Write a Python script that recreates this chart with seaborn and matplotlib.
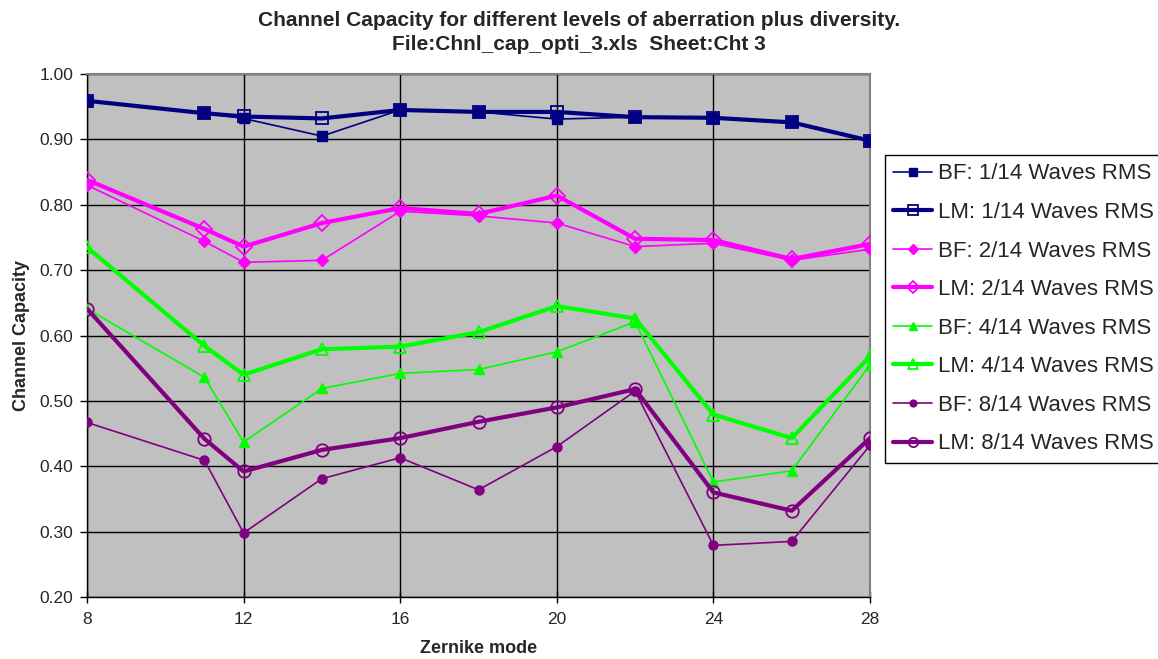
import matplotlib
matplotlib.use("Agg")
import matplotlib.pyplot as plt
import seaborn as sns
import pandas as pd

sns.set_theme(style="white")
plt.rcParams["font.family"] = ["Liberation Sans", "DejaVu Sans"]

zernike_mode = [8, 11, 12, 14, 16, 18, 20, 22, 24, 26, 28]

bf_1_14 = [0.959, 0.940, 0.932, 0.905, 0.945, 0.942, 0.931, 0.934, 0.933, 0.926, 0.898]
lm_1_14 = [0.959, 0.940, 0.935, 0.932, 0.945, 0.942, 0.942, 0.934, 0.933, 0.926, 0.898]
bf_2_14 = [0.830, 0.744, 0.712, 0.715, 0.790, 0.783, 0.772, 0.736, 0.741, 0.715, 0.732]
lm_2_14 = [0.838, 0.763, 0.736, 0.772, 0.795, 0.786, 0.814, 0.748, 0.746, 0.717, 0.740]
bf_4_14 = [0.641, 0.536, 0.437, 0.519, 0.542, 0.548, 0.575, 0.621, 0.376, 0.393, 0.555]
lm_4_14 = [0.735, 0.584, 0.540, 0.579, 0.583, 0.605, 0.645, 0.626, 0.479, 0.443, 0.568]
bf_8_14 = [0.467, 0.409, 0.298, 0.381, 0.413, 0.364, 0.430, 0.515, 0.279, 0.285, 0.432]
lm_8_14 = [0.641, 0.442, 0.392, 0.425, 0.443, 0.468, 0.490, 0.518, 0.360, 0.332, 0.443]

series_labels = [
    "BF: 1/14 Waves RMS", "LM: 1/14 Waves RMS",
    "BF: 2/14 Waves RMS", "LM: 2/14 Waves RMS",
    "BF: 4/14 Waves RMS", "LM: 4/14 Waves RMS",
    "BF: 8/14 Waves RMS", "LM: 8/14 Waves RMS",
]
series_values = [bf_1_14, lm_1_14, bf_2_14, lm_2_14, bf_4_14, lm_4_14, bf_8_14, lm_8_14]

colors = ["#000080", "#000080", "#FF00FF", "#FF00FF",
          "#00FF00", "#00FF00", "#800080", "#800080"]
markers = ["s", "s", "D", "D", "^", "^", "o", "o"]
filled = [True, False, True, False, True, False, True, False]
msizes = [7.5, 9, 6.5, 8, 7, 9, 6.5, 9]

fig = plt.figure(figsize=(11.58, 6.59), dpi=100)
ax = fig.add_axes([87 / 1158, 1 - 597 / 659, (870 - 87) / 1158, (597 - 74) / 659])
ax.set_facecolor("#C0C0C0")

for lab, vals, c, m, f, ms in zip(series_labels, series_values, colors, markers, filled, msizes):
    df = pd.DataFrame({"Zernike mode": zernike_mode, "Channel Capacity": vals})
    sns.lineplot(
        data=df, x="Zernike mode", y="Channel Capacity", ax=ax,
        color=c, linewidth=1.2 if f else 3.0, marker=m, markersize=ms,
        markerfacecolor=c if f else "none", markeredgecolor=c,
        markeredgewidth=1.0 if f else 1.3, label=lab, zorder=3,
    )

ax.set_xlim(8, 28)
ax.set_ylim(0.2, 1.0)
ax.set_xticks([8, 12, 16, 20, 24, 28])
ax.set_yticks([0.2, 0.3, 0.4, 0.5, 0.6, 0.7, 0.8, 0.9, 1.0])
ax.set_yticklabels([f"{v:.2f}" for v in ax.get_yticks()])
ax.grid(True, color="black", linewidth=1.0, zorder=1)
ax.set_axisbelow(True)
ax.tick_params(axis="y", direction="out", length=5, width=1,
               color="black", labelsize=12.5, left=True, pad=5)
ax.tick_params(axis="x", direction="inout", length=9, width=1,
               color="black", labelsize=12.5, bottom=True, pad=6)
for side in ["left", "bottom"]:
    ax.spines[side].set_color("black")
    ax.spines[side].set_linewidth(1.0)
for side in ["top", "right"]:
    ax.spines[side].set_color("#808080")
    ax.spines[side].set_linewidth(1.5)

ax.set_xlabel("Zernike mode", fontsize=13, fontweight="bold", labelpad=10)
ax.set_ylabel("Channel Capacity", fontsize=13, fontweight="bold", labelpad=7)
fig.suptitle("Channel Capacity for different levels of aberration plus diversity.\n"
             "File:Chnl_cap_opti_3.xls  Sheet:Cht 3",
             x=0.5, y=1 - 11 / 659, va="top",
             fontsize=15, fontweight="bold", linespacing=1.35)

leg = ax.legend(loc="upper left", bbox_to_anchor=(885 / 1158, 1 - 155 / 659),
                bbox_transform=fig.transFigure, fontsize=16, frameon=True,
                fancybox=False, edgecolor="black", framealpha=1,
                handlelength=1.75, handletextpad=0.25, labelspacing=0.79,
                borderpad=0.38, borderaxespad=0, markerscale=0.75)
leg.get_frame().set_linewidth(1.0)

fig.savefig("out.png", dpi=100, facecolor="white")
